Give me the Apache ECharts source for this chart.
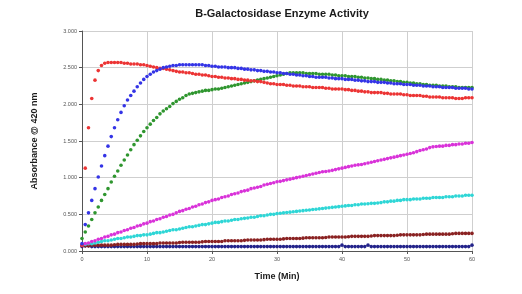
<!DOCTYPE html>
<html>
<head>
<meta charset="utf-8">
<script src="https://cdn.jsdelivr.net/npm/echarts@6/dist/echarts.min.js"></script>
<style>
html,body{margin:0;padding:0;background:#fff;}
#chart{width:522px;height:294px;}
</style>
</head>
<body>
<div id="chart"></div>
<script>
var timeMin = [
0,0.5,1,1.5,2,2.5,3,3.5,4,4.5,
5,5.5,6,6.5,7,7.5,8,8.5,9,9.5,
10,10.5,11,11.5,12,12.5,13,13.5,14,14.5,
15,15.5,16,16.5,17,17.5,18,18.5,19,19.5,
20,20.5,21,21.5,22,22.5,23,23.5,24,24.5,
25,25.5,26,26.5,27,27.5,28,28.5,29,29.5,
30,30.5,31,31.5,32,32.5,33,33.5,34,34.5,
35,35.5,36,36.5,37,37.5,38,38.5,39,39.5,
40,40.5,41,41.5,42,42.5,43,43.5,44,44.5,
45,45.5,46,46.5,47,47.5,48,48.5,49,49.5,
50,50.5,51,51.5,52,52.5,53,53.5,54,54.5,
55,55.5,56,56.5,57,57.5,58,58.5,59,59.5,
60];

var redSeries = [
0.08,1.13,1.68,2.08,2.33,2.46,2.53,2.56,2.57,2.57,
2.57,2.57,2.57,2.56,2.56,2.55,2.55,2.55,2.54,2.54,
2.53,2.52,2.51,2.50,2.49,2.49,2.48,2.47,2.46,2.45,
2.44,2.44,2.43,2.43,2.42,2.41,2.41,2.40,2.40,2.39,
2.38,2.38,2.37,2.37,2.36,2.36,2.35,2.35,2.34,2.34,
2.33,2.33,2.32,2.32,2.31,2.31,2.30,2.29,2.28,2.28,
2.27,2.27,2.27,2.26,2.26,2.25,2.25,2.25,2.24,2.24,
2.24,2.23,2.23,2.23,2.23,2.22,2.22,2.21,2.21,2.21,
2.21,2.20,2.20,2.19,2.19,2.18,2.18,2.17,2.17,2.16,
2.16,2.16,2.16,2.15,2.15,2.14,2.14,2.14,2.14,2.13,
2.13,2.12,2.12,2.12,2.12,2.11,2.11,2.10,2.10,2.10,
2.10,2.09,2.09,2.09,2.09,2.08,2.08,2.08,2.09,2.09,
2.09];

var blueSeries = [
0.10,0.36,0.52,0.69,0.85,1.01,1.16,1.30,1.43,1.56,
1.68,1.79,1.89,1.98,2.06,2.12,2.18,2.24,2.29,2.34,
2.38,2.41,2.44,2.46,2.48,2.50,2.51,2.52,2.53,2.53,
2.54,2.54,2.54,2.54,2.54,2.54,2.54,2.54,2.53,2.53,
2.52,2.52,2.51,2.51,2.51,2.50,2.50,2.50,2.49,2.49,
2.48,2.48,2.47,2.47,2.46,2.46,2.45,2.45,2.44,2.44,
2.43,2.43,2.42,2.42,2.41,2.41,2.40,2.40,2.39,2.39,
2.38,2.38,2.37,2.37,2.37,2.37,2.36,2.36,2.35,2.35,
2.35,2.34,2.34,2.34,2.33,2.33,2.32,2.32,2.31,2.31,
2.31,2.30,2.30,2.30,2.29,2.29,2.28,2.28,2.28,2.27,
2.27,2.27,2.26,2.26,2.26,2.25,2.25,2.25,2.24,2.24,
2.24,2.23,2.23,2.23,2.23,2.22,2.22,2.22,2.22,2.21,
2.21];

var greenSeries = [
0.17,0.26,0.34,0.43,0.52,0.60,0.69,0.77,0.85,0.94,
1.02,1.09,1.17,1.24,1.31,1.38,1.45,1.51,1.57,1.63,
1.68,1.73,1.78,1.82,1.87,1.91,1.94,1.97,2.01,2.04,
2.07,2.09,2.12,2.14,2.15,2.16,2.17,2.18,2.19,2.19,
2.20,2.21,2.21,2.22,2.23,2.24,2.25,2.26,2.27,2.28,
2.29,2.30,2.31,2.32,2.33,2.34,2.35,2.36,2.37,2.38,
2.39,2.40,2.41,2.42,2.43,2.43,2.43,2.43,2.43,2.42,
2.42,2.42,2.42,2.41,2.41,2.41,2.41,2.40,2.40,2.39,
2.39,2.39,2.38,2.38,2.38,2.37,2.37,2.36,2.36,2.35,
2.35,2.34,2.34,2.33,2.33,2.32,2.32,2.31,2.31,2.30,
2.30,2.29,2.29,2.28,2.28,2.27,2.27,2.26,2.26,2.26,
2.25,2.25,2.25,2.24,2.24,2.24,2.23,2.23,2.23,2.23,
2.23];

var magentaSeries = [
0.08,0.10,0.11,0.13,0.14,0.16,0.17,0.19,0.20,0.22,
0.23,0.25,0.26,0.28,0.29,0.31,0.32,0.34,0.35,0.37,
0.38,0.40,0.41,0.43,0.44,0.46,0.47,0.49,0.50,0.52,
0.54,0.55,0.57,0.58,0.60,0.61,0.63,0.64,0.66,0.67,
0.69,0.70,0.71,0.73,0.74,0.75,0.77,0.78,0.79,0.81,
0.82,0.83,0.85,0.86,0.87,0.88,0.90,0.91,0.92,0.93,
0.945,0.95,0.96,0.97,0.98,0.99,1.00,1.01,1.02,1.03,
1.04,1.05,1.06,1.07,1.08,1.085,1.09,1.10,1.11,1.12,
1.13,1.14,1.15,1.16,1.17,1.175,1.18,1.19,1.20,1.21,
1.22,1.23,1.24,1.25,1.26,1.27,1.28,1.29,1.30,1.31,
1.32,1.33,1.34,1.355,1.37,1.38,1.39,1.41,1.42,1.425,
1.43,1.43,1.44,1.44,1.45,1.45,1.46,1.46,1.47,1.47,
1.48];

var cyanSeries = [
0.08,0.09,0.10,0.10,0.11,0.12,0.13,0.14,0.14,0.15,
0.16,0.17,0.17,0.18,0.19,0.19,0.20,0.21,0.21,0.22,
0.22,0.23,0.24,0.25,0.25,0.26,0.27,0.28,0.29,0.29,
0.30,0.31,0.32,0.33,0.33,0.34,0.35,0.36,0.36,0.37,
0.38,0.39,0.39,0.40,0.41,0.41,0.42,0.43,0.43,0.44,
0.445,0.45,0.46,0.46,0.47,0.48,0.48,0.49,0.50,0.50,
0.51,0.515,0.52,0.525,0.53,0.535,0.54,0.545,0.55,0.555,
0.56,0.565,0.57,0.575,0.58,0.585,0.59,0.595,0.60,0.605,
0.61,0.615,0.62,0.62,0.63,0.63,0.64,0.64,0.645,0.65,
0.65,0.655,0.66,0.67,0.67,0.68,0.68,0.69,0.69,0.70,
0.70,0.70,0.71,0.71,0.71,0.72,0.72,0.72,0.73,0.73,
0.73,0.73,0.74,0.74,0.74,0.75,0.75,0.75,0.76,0.76,
0.76];

var brownSeries = [
0.07,0.07,0.07,0.08,0.08,0.08,0.08,0.08,0.08,0.08,
0.085,0.09,0.09,0.09,0.09,0.09,0.09,0.095,0.10,0.10,
0.10,0.10,0.10,0.10,0.11,0.11,0.11,0.11,0.11,0.11,
0.115,0.12,0.12,0.12,0.12,0.12,0.12,0.125,0.13,0.13,
0.13,0.13,0.13,0.13,0.14,0.14,0.14,0.14,0.14,0.14,
0.145,0.15,0.15,0.15,0.15,0.15,0.155,0.16,0.16,0.16,
0.16,0.16,0.165,0.17,0.17,0.17,0.17,0.17,0.175,0.18,
0.18,0.18,0.18,0.18,0.18,0.185,0.19,0.19,0.19,0.19,
0.19,0.19,0.195,0.20,0.20,0.20,0.20,0.20,0.20,0.205,
0.21,0.21,0.21,0.21,0.21,0.21,0.21,0.215,0.22,0.22,
0.22,0.22,0.22,0.22,0.22,0.225,0.23,0.23,0.23,0.23,
0.23,0.23,0.23,0.23,0.235,0.24,0.24,0.24,0.24,0.24,
0.24];

var navySeries = [
0.06,0.07,0.07,0.06,0.06,0.06,0.06,0.06,0.06,0.06,
0.06,0.06,0.06,0.06,0.06,0.06,0.06,0.06,0.06,0.06,
0.06,0.06,0.06,0.06,0.06,0.06,0.06,0.06,0.06,0.06,
0.06,0.06,0.06,0.06,0.06,0.06,0.06,0.06,0.06,0.06,
0.06,0.06,0.06,0.06,0.06,0.06,0.06,0.06,0.06,0.06,
0.06,0.06,0.06,0.06,0.06,0.06,0.06,0.06,0.06,0.06,
0.06,0.06,0.06,0.06,0.06,0.06,0.06,0.06,0.06,0.06,
0.06,0.06,0.06,0.06,0.06,0.06,0.06,0.06,0.06,0.06,
0.08,0.06,0.06,0.06,0.06,0.06,0.06,0.06,0.08,0.06,
0.06,0.06,0.06,0.06,0.06,0.06,0.06,0.06,0.06,0.06,
0.06,0.06,0.06,0.06,0.06,0.06,0.06,0.06,0.06,0.06,
0.06,0.06,0.06,0.06,0.06,0.06,0.06,0.06,0.06,0.06,
0.08];

var yTickLabels = ['0.000','0.500','1.000','1.500','2.000','2.500','3.000'];
var xTickLabels = ['0','10','20','30','40','50','60'];

function pairs(vals){ return timeMin.map(function(t,i){ return [t, vals[i]]; }); }

var seriesDefs = [
  {name:'Navy', data:navySeries, color:'#23238a'},
  {name:'Brown', data:brownSeries, color:'#8a2222'},
  {name:'Cyan', data:cyanSeries, color:'#2ed6d6'},
  {name:'Magenta', data:magentaSeries, color:'#d932d9'},
  {name:'Green', data:greenSeries, color:'#2f962f'},
  {name:'Red', data:redSeries, color:'#ec3434'},
  {name:'Blue', data:blueSeries, color:'#3434e6'}
];

var chart = echarts.init(document.getElementById('chart'), null, {renderer:'canvas'});
chart.setOption({
  animation:false,
  backgroundColor:'#ffffff',
  title:{
    text:'B-Galactosidase Enzyme Activity',
    left:277, top:3, textAlign:'center',
    textStyle:{fontFamily:'Liberation Sans, Arial, sans-serif', fontSize:11, fontWeight:'bold', color:'#1a1a1a'}
  },
  grid:{left:82, right:50, top:31, bottom:43},
  xAxis:{
    type:'value', min:0, max:60, interval:10,
    name:'Time (Min)', nameLocation:'middle', nameGap:21,
    nameTextStyle:{fontFamily:'Liberation Sans, Arial, sans-serif', fontSize:9, fontWeight:'bold', color:'#1a1a1a'},
    axisLine:{show:true, onZero:false, lineStyle:{color:'#555', width:1}},
    axisTick:{show:true, length:3, lineStyle:{color:'#555'}},
    axisLabel:{fontSize:5.5, color:'#555', margin:5, fontFamily:'Liberation Sans, Arial, sans-serif',
      formatter:function(v){ var i = xTickLabels.indexOf(String(v)); return i>=0 ? xTickLabels[i] : ''; }},
    splitLine:{show:true, lineStyle:{color:'#cfcfcf', width:1}}
  },
  yAxis:{
    type:'value', min:0, max:3, interval:0.5,
    name:'Absorbance @ 420 nm', nameLocation:'middle', nameGap:43, nameRotate:90,
    nameTextStyle:{fontFamily:'Liberation Sans, Arial, sans-serif', fontSize:9, fontWeight:'bold', color:'#1a1a1a'},
    axisLine:{show:true, lineStyle:{color:'#555', width:1}},
    axisTick:{show:true, length:3, lineStyle:{color:'#555'}},
    axisLabel:{fontSize:5.5, color:'#555', margin:5, fontFamily:'Liberation Sans, Arial, sans-serif',
      formatter:function(v){ return yTickLabels[Math.round(v/0.5)] || ''; }},
    splitLine:{show:true, lineStyle:{color:'#cfcfcf', width:1}}
  },
  series: seriesDefs.map(function(s){
    return {
      name:s.name, type:'scatter', data:pairs(s.data),
      symbol:'circle', symbolSize:3.6,
      itemStyle:{color:s.color, opacity:1},
      emphasis:{disabled:true}
    };
  })
});
</script>
</body>
</html>
